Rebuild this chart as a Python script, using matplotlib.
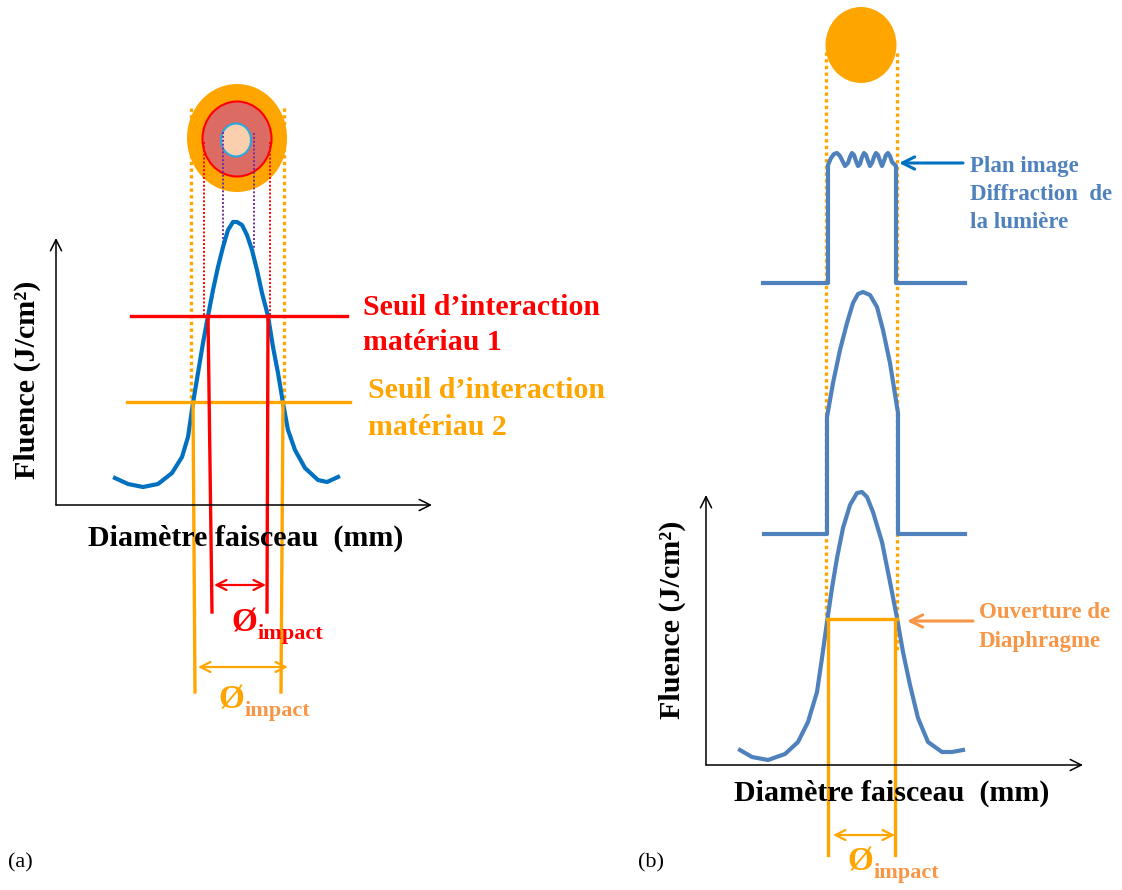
import matplotlib.pyplot as plt
from matplotlib.patches import Ellipse

# ---- data (pixel coords, y down) ----
# panel (a): gaussian fluence profile
a_curve_x = [115, 128, 143, 158, 172, 182, 188, 193, 198, 203, 208, 213, 218, 223, 228, 233, 237,
             242, 247, 252, 257, 262, 268, 273, 278, 283, 288, 295, 305, 318, 327, 338]
a_curve_y = [478, 484, 487, 484, 473, 457, 437, 403, 373, 343, 316, 290, 267, 247, 230, 222, 222,
             225, 235, 250, 270, 293, 316, 347, 373, 403, 430, 450, 468, 480, 482, 477]
a_seuil1 = 316          # seuil matériau 1
a_seuil2 = 402          # seuil matériau 2
a_red_cut = [(208, 212), (268, 267)]     # top x, bottom x
a_orange_cut = [(193, 195), (283, 281)]

# panel (b): top hat with diffraction ripple
b_top_x = [763, 828, 828, 831, 834, 837, 840, 843, 845, 848, 850, 852, 854, 856, 858, 860, 862,
           864, 866, 868, 870, 872, 874, 876, 878, 880, 882, 884, 886, 888, 890, 892, 896, 896, 965]
b_top_y = [283, 283, 165, 158, 154, 153, 156, 162, 166, 163, 157, 153, 155, 161, 166, 164, 157,
           153, 155, 161, 166, 163, 157, 153, 155, 161, 166, 161, 155, 153, 156, 162, 166, 283, 283]
# panel (b): truncated gaussian (diaphragm)
b_mid_x = [764, 827, 827, 833, 840, 847, 853, 858, 863, 870, 877, 883, 890, 898, 898, 965]
b_mid_y = [534, 534, 417, 383, 350, 323, 303, 294, 292, 295, 307, 330, 363, 413, 534, 534]
# panel (b): full gaussian
b_low_x = [740, 752, 768, 785, 798, 808, 817, 822, 827, 832, 837, 843, 850, 857, 862,
           867, 873, 882, 890, 897, 903, 910, 918, 928, 942, 952, 963]
b_low_y = [750, 757, 760, 754, 742, 722, 692, 658, 622, 588, 558, 528, 505, 493, 492,
           497, 512, 542, 582, 618, 652, 685, 718, 742, 752, 752, 750]
b_aperture = 619

BLUE_A = '#0070C0'
BLUE_B = '#4F81BD'
RED = '#FF0000'
ORANGE = '#FFA500'
ORANGE2 = '#F79646'
PURPLE = '#7030A0'

fig = plt.figure(figsize=(11.22, 8.90), dpi=100)
ax = fig.add_axes([0, 0, 1, 1])
ax.set_xlim(0, 1122)
ax.set_ylim(890, 0)
ax.axis('off')

serif = 'Liberation Serif'


def axis_arrow(x0, y0, x1, y1, color='black', lw=1.1):
    ax.annotate('', xy=(x1, y1), xytext=(x0, y0),
                arrowprops=dict(arrowstyle='->', color=color, lw=lw,
                                shrinkA=0, shrinkB=0, mutation_scale=20))


def dbl_arrow(x0, x1, y, color):
    ax.annotate('', xy=(x1, y), xytext=(x0, y),
                arrowprops=dict(arrowstyle='<->', color=color, lw=1.6,
                                shrinkA=0, shrinkB=0, mutation_scale=18))


def phi(x, y, c1, c2):
    ax.text(x, y, 'Ø', color=c1, fontsize=24, fontweight='bold', family=serif,
            ha='left', va='center')
    ax.text(x + 27, y + 11, 'impact', color=c2, fontsize=16, fontweight='bold', family=serif,
            ha='left', va='center')


def lines(x, baselines, texts, color, size):
    for yb, t in zip(baselines, texts):
        ax.text(x, yb, t, color=color, fontsize=size, fontweight='bold', family=serif,
                ha='left', va='baseline')


# ================= panel (a) =================
ax.add_patch(Ellipse((237, 138), 100, 108, color=ORANGE, lw=0))
ax.add_patch(Ellipse((237, 139), 69, 75, facecolor='#DC6B63', edgecolor=RED, lw=1.5))
ax.add_patch(Ellipse((236, 140), 30, 33, facecolor='#F9CFAE', edgecolor='#2AA7DE', lw=1.5))

for x in (191, 284):
    ax.plot([x, x], [108, 400], color=ORANGE, lw=2.4, ls=(0, (1, 1)))
for x in (204, 270):
    ax.plot([x, x], [142, 316], color=RED, lw=1.4, ls=(0, (1, 1)))
ax.plot([223, 223], [132, 252], color=PURPLE, lw=1.4, ls=(0, (1, 1)))
ax.plot([254, 254], [133, 250], color=PURPLE, lw=1.4, ls=(0, (1, 1)))

axis_arrow(56, 505, 56, 238)
axis_arrow(56, 505, 432, 505)

ax.plot(a_curve_x, a_curve_y, color=BLUE_A, lw=3, solid_joinstyle='round')

ax.plot([131, 347], [a_seuil1, a_seuil1], color=RED, lw=2.4)
ax.plot([127, 350], [a_seuil2, a_seuil2], color=ORANGE, lw=2.4)
for xt, xb in a_red_cut:
    ax.plot([xt, xb], [a_seuil1, 612], color=RED, lw=2.4)
for xt, xb in a_orange_cut:
    ax.plot([xt, xb], [a_seuil2, 692], color=ORANGE, lw=2.4)

dbl_arrow(214, 266, 585, RED)
dbl_arrow(198, 288, 667, ORANGE)
phi(231, 623, RED, RED)
phi(218, 700, ORANGE, ORANGE2)

lines(363, [315, 350], ['Seuil d’interaction', 'matériau 1'], RED, 21.5)
lines(368, [398, 435], ['Seuil d’interaction', 'matériau 2'], ORANGE, 21.5)

ax.text(27, 380, 'Fluence (J/cm²)', rotation=90, fontsize=21.6, fontweight='bold', family=serif,
        ha='center', va='center')
ax.text(246, 538, 'Diamètre faisceau  (mm)', fontsize=21.6, fontweight='bold', family=serif,
        ha='center', va='center')
ax.text(8, 863, '(a)', fontsize=16, family=serif, ha='left', va='center')

# ================= panel (b) =================
ax.add_patch(Ellipse((861, 45), 71, 76, color=ORANGE, lw=0))
ax.plot([826, 826], [52, 616], color=ORANGE, lw=2.4, ls=(0, (1, 1)))
ax.plot([897, 897], [53, 652], color=ORANGE, lw=2.4, ls=(0, (1, 1)))

ax.plot(b_top_x, b_top_y, color=BLUE_B, lw=3, solid_joinstyle='round')
ax.plot(b_mid_x, b_mid_y, color=BLUE_B, lw=3, solid_joinstyle='round')

axis_arrow(706, 765, 706, 495)
axis_arrow(706, 765, 1083, 765)
ax.plot(b_low_x, b_low_y, color=BLUE_B, lw=3, solid_joinstyle='round')

ax.plot([827, 897], [b_aperture, b_aperture], color=ORANGE, lw=2.4)
ax.plot([828, 828], [b_aperture, 855], color=ORANGE, lw=2.4)
ax.plot([895, 895], [b_aperture, 855], color=ORANGE, lw=2.4)
dbl_arrow(833, 895, 835, ORANGE)
phi(847, 862, ORANGE, ORANGE2)

ax.annotate('', xy=(899, 163), xytext=(963, 163),
            arrowprops=dict(arrowstyle='->', color=BLUE_A, lw=2.2, shrinkA=0, shrinkB=0,
                            mutation_scale=22))
lines(970, [172, 200, 228], ['Plan image', 'Diffraction  de', 'la lumière'], BLUE_B, 16.5)

ax.annotate('', xy=(907, 621), xytext=(973, 621),
            arrowprops=dict(arrowstyle='->', color=ORANGE2, lw=2.2, shrinkA=0, shrinkB=0,
                            mutation_scale=22))
lines(979, [618, 647], ['Ouverture de', 'Diaphragme'], ORANGE2, 16.5)

ax.text(672, 620, 'Fluence (J/cm²)', rotation=90, fontsize=21.6, fontweight='bold', family=serif,
        ha='center', va='center')
ax.text(892, 793, 'Diamètre faisceau  (mm)', fontsize=21.6, fontweight='bold', family=serif,
        ha='center', va='center')
ax.text(638, 863, '(b)', fontsize=16, family=serif, ha='left', va='center')

fig.savefig('out.png', dpi=100)
